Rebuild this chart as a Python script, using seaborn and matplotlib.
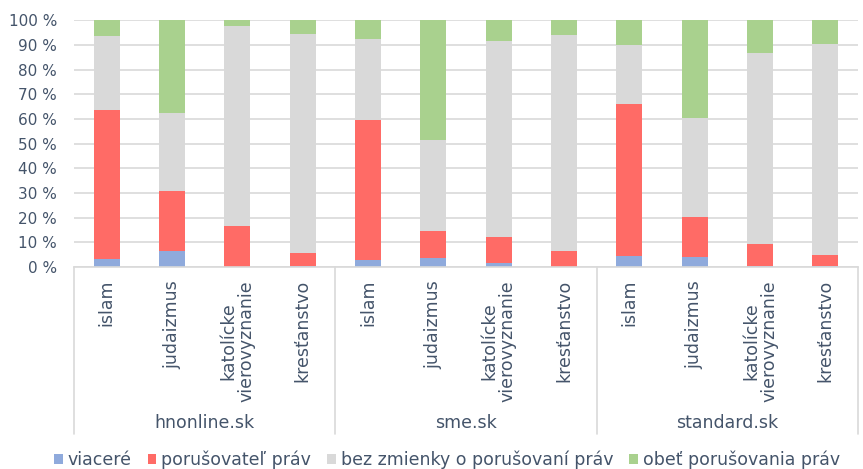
import matplotlib
matplotlib.use("Agg")
import matplotlib.pyplot as plt
import matplotlib.transforms as mtransforms
from matplotlib.patches import Patch
import numpy as np
import pandas as pd
import seaborn as sns

# ---- data ----
sites = ["hnonline.sk", "sme.sk", "standard.sk"]
religions = ["islam", "judaizmus", "katolícke\nvierovyznanie", "kresťanstvo"]
series_names = ["viaceré", "porušovateľ práv", "bez zmienky o porušovaní práv", "obeť porušovania práv"]
viacere = [3.1, 6.4, 0.0, 0.6, 2.8, 3.8, 1.8, 0.0, 4.3, 3.9, 0.6, 0.3]
porusovatel = [60.6, 24.6, 16.8, 5.0, 57.0, 10.8, 10.3, 6.5, 61.8, 16.4, 8.7, 4.7]
bez_zmienky = [30.1, 31.5, 81.0, 89.0, 32.6, 36.8, 79.6, 87.7, 24.0, 40.3, 77.7, 85.5]
obet = [6.2, 37.5, 2.2, 5.4, 7.6, 48.6, 8.4, 5.8, 9.9, 39.4, 13.0, 9.5]
yticks = [0, 10, 20, 30, 40, 50, 60, 70, 80, 90, 100]

colors = ["#8FAADC", "#FF6B66", "#D9D9D9", "#A9D18E"]
text_color = "#44546A"

sns.set_theme(style="white")
plt.rcParams["font.family"] = ["DejaVu Sans"]

keys = [f"{s}|{r}" for s in sites for r in religions]
df = pd.DataFrame({"key": keys})
series = [viacere, porusovatel, bez_zmienky, obet]
cum = np.cumsum(np.array(series), axis=0)
total = cum[-1]
for i in range(4):
    df[f"c{i}"] = cum[i] / total * 100

fig = plt.figure(figsize=(8.63, 4.69), dpi=100)
ax = fig.add_axes([74 / 863, (469 - 267) / 469, (858 - 74) / 863, (267 - 20.5) / 469])

for i in range(3, -1, -1):
    sns.barplot(data=df, x="key", y=f"c{i}", color=colors[i], saturation=1,
                width=0.4, ax=ax, order=keys, edgecolor="none", linewidth=0)

ax.set_ylim(0, 100)
ax.set_xlim(-0.5, len(keys) - 0.5)
ax.set_yticks(yticks)
ax.set_yticklabels([f"{v} %" for v in yticks], color=text_color, fontsize=11)
ax.tick_params(axis="y", length=0, pad=12.2)
ax.set_xticks([])
ax.set_xlabel("")
ax.set_ylabel("")
ax.grid(axis="y", color="#D9D9D9", linewidth=1.2)
ax.set_axisbelow(True)
for s in ["top", "right", "left"]:
    ax.spines[s].set_visible(False)
ax.spines["bottom"].set_color("#D9D9D9")
ax.spines["bottom"].set_linewidth(1.2)

# multi-level x axis labels
trans = mtransforms.blended_transform_factory(ax.transData, fig.transFigure)
def fy(px):
    return (469 - px) / 469

for j, k in enumerate(keys):
    rel = k.split("|")[1]
    ax.text(j, fy(280), rel, transform=trans, rotation=90, ha="center", va="top",
            fontsize=12.5, color=text_color, multialignment="center", linespacing=1.0)

for g, site in enumerate(sites):
    ax.text(g * 4 + 1.5, fy(423), site, transform=trans, ha="center", va="center",
            fontsize=12.5, color=text_color)
for b in range(4):
    ax.plot([b * 4 - 0.5, b * 4 - 0.5], [fy(267), fy(434)], transform=trans,
            color="#D9D9D9", linewidth=1.2, clip_on=False)

handles = [Patch(facecolor=c, edgecolor="none") for c in colors]
fig.legend(handles, series_names, loc="center", bbox_to_anchor=(447 / 863, fy(460)),
           ncol=4, frameon=False, fontsize=12.5, labelcolor=text_color,
           handlelength=0.5, handleheight=0.5, handletextpad=0.3, columnspacing=0.9)

fig.savefig("out.png", dpi=100)
